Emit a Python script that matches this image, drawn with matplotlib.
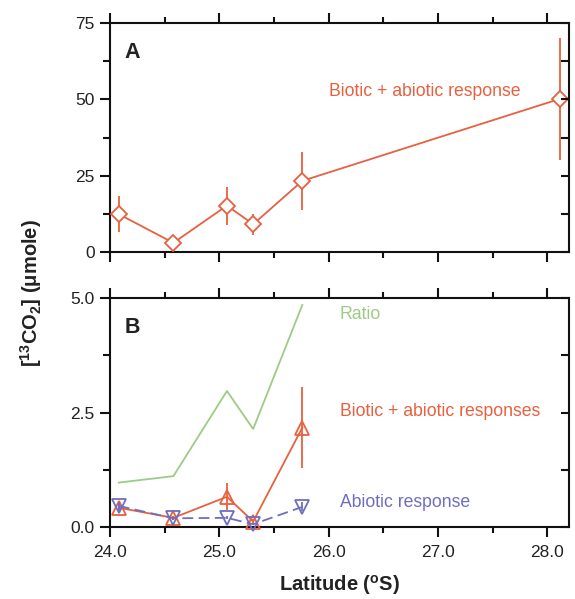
import matplotlib
matplotlib.use("Agg")
import matplotlib.pyplot as plt
import numpy as np

plt.rcParams['font.family'] = ['Liberation Sans', 'DejaVu Sans']

# Data
lat = [24.08, 24.58, 25.07, 25.31, 25.76]
lat_a = [24.08, 24.58, 25.07, 25.31, 25.76, 28.12]
total_a = [12.4, 3.0, 15.2, 9.1, 23.3, 50.2]
total_a_err = [6.0, 0.0, 6.2, 3.5, 9.5, 20.0]

ratio = [0.97, 1.11, 2.97, 2.14, 4.85]
total_b = [0.42, 0.20, 0.66, 0.12, 2.17]
total_b_err = [0.10, 0.05, 0.29, 0.05, 0.88]
abiotic_b = [0.46, 0.19, 0.20, 0.06, 0.44]
abiotic_b_err = [0.08, 0.03, 0.03, 0.02, 0.10]

red = '#E8603F'
green = '#9DCB86'
blue = '#6E6EC0'
tc = '#222222'

fig = plt.figure(figsize=(5.75, 5.99), dpi=100)
ax1 = fig.add_axes([0.1913, 0.5793, 0.7983, 0.3823])
ax2 = fig.add_axes([0.1913, 0.1202, 0.7983, 0.3823])

def style(ax, ymax, ymajor, yminor, xlabels):
    ax.set_xlim(24.0, 28.2)
    ax.set_ylim(0, ymax)
    ax.set_xticks([24, 25, 26, 27, 28])
    ax.set_xticks(np.arange(24.5, 28.2, 1.0), minor=True)
    ax.set_yticks(ymajor)
    ax.set_yticks(yminor, minor=True)
    for s in ax.spines.values():
        s.set_linewidth(1.5)
        s.set_color('#111111')
    ax.tick_params(axis='x', which='both', direction='out', top=True, bottom=True,
                   width=1.5, color='#111111', labelsize=12.5, labelcolor=tc, pad=6)
    ax.tick_params(axis='x', which='major', length=7)
    ax.tick_params(axis='x', which='minor', length=4)
    ax.tick_params(axis='y', which='both', direction='out', left=True, right=False,
                   width=1.5, color='#111111', labelsize=12.5, labelcolor=tc, pad=4)
    ax.tick_params(axis='y', which='major', length=7)
    ax.tick_params(axis='y', which='minor', length=5)
    if not xlabels:
        ax.tick_params(axis='x', labelbottom=False)
    tw = ax.twinx()
    tw.set_ylim(0, ymax)
    tw.set_yticks(sorted(list(ymajor) + list(yminor)))
    tw.tick_params(axis='y', direction='in', length=6, width=1.5, color='#111111',
                   labelright=False)
    for s in tw.spines.values():
        s.set_visible(False)
    return tw

style(ax1, 75, [0, 25, 50, 75], [12.5, 37.5, 62.5], False)
ax1.set_yticklabels(['0', '25', '50', '75'])
style(ax2, 5.0, [0, 2.5, 5.0], [1.25, 3.75], True)
ax2.set_yticklabels(['0.0', '2.5', '5.0'])
ax2.set_xticklabels(['24.0', '25.0', '26.0', '27.0', '28.0'])

# Panel A
ax1.errorbar(lat_a, total_a, yerr=total_a_err, color=red, lw=1.3, elinewidth=1.3,
             marker='D', markersize=8, mfc='white', mec=red, mew=1.3, capsize=0,
             clip_on=False, zorder=3)
ax1.text(26.0, 52.5, 'Biotic + abiotic response', color=red, fontsize=12.7,
         va='center', ha='left')
ax1.text(0.032, 0.87, 'A', transform=ax1.transAxes, fontsize=15.5, fontweight='bold',
         color=tc, va='center', ha='left')

# Panel B
ax2.plot(lat, ratio, color=green, lw=1.3, zorder=2)
ax2.errorbar(lat, total_b, yerr=total_b_err, color=red, lw=1.3, elinewidth=1.3,
             marker='^', markersize=9.5, mfc='none', mec=red, mew=1.3, capsize=0,
             clip_on=False, zorder=3)
ax2.errorbar(lat, abiotic_b, yerr=abiotic_b_err, color=blue, lw=1.3, elinewidth=1.3,
             marker='v', markersize=9.5, mfc='none', mec=blue, mew=1.3, capsize=0,
             ls=(0, (6, 3)), clip_on=False, zorder=4)
ax2.text(26.1, 4.63, 'Ratio', color=green, fontsize=12.7, va='center', ha='left')
ax2.text(26.1, 2.53, 'Biotic + abiotic responses', color=red, fontsize=12.7,
         va='center', ha='left')
ax2.text(26.1, 0.54, 'Abiotic response', color=blue, fontsize=12.7,
         va='center', ha='left')
ax2.text(0.032, 0.87, 'B', transform=ax2.transAxes, fontsize=15.5, fontweight='bold',
         color=tc, va='center', ha='left')

ax2.set_xlabel('Latitude ($\\mathregular{^{o}}$S)', fontsize=14.5, fontweight='bold',
               color=tc, labelpad=9)
fig.text(0.054, 0.51, '[$\\mathregular{^{13}}$CO$\\mathregular{_{2}}$] ($\\mathregular{\\mu}$mole)',
         rotation=90, fontsize=14.5, fontweight='bold', color=tc, va='center', ha='center')

fig.savefig('out.png', dpi=100, facecolor='white')
